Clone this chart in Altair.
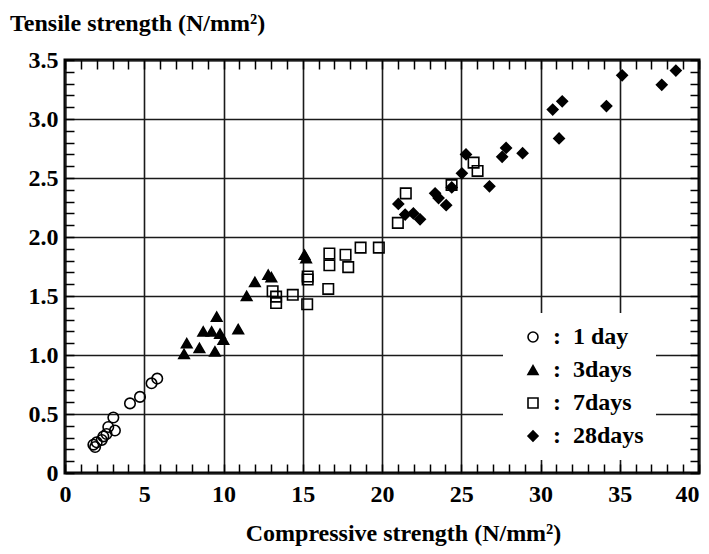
import altair as alt
import pandas as pd

# 1 day (open circles)
c1_x = [1.79, 1.90, 2.00, 2.32, 2.42, 2.62, 2.73, 3.15, 3.05, 4.10, 4.73, 5.46, 5.82]
c1_y = [0.24, 0.22, 0.26, 0.28, 0.31, 0.33, 0.39, 0.36, 0.47, 0.59, 0.645, 0.76, 0.80]
# 3 days (filled triangles)
t3_x = [7.51, 7.68, 8.48, 8.72, 9.25, 9.46, 9.57, 9.78, 9.99, 10.93, 11.46, 11.98, 12.82, 13.02, 15.11, 15.21]
t3_y = [1.01, 1.10, 1.06, 1.20, 1.20, 1.03, 1.325, 1.18, 1.13, 1.22, 1.50, 1.62, 1.68, 1.66, 1.85, 1.82]
# 7 days (open squares)
s7_x = [13.10, 13.32, 13.32, 14.37, 15.31, 15.31, 15.28, 16.61, 16.68, 16.68, 17.70, 17.87, 18.65, 19.80,
        21.00, 21.50, 24.39, 25.78, 26.03]
s7_y = [1.54, 1.495, 1.44, 1.51, 1.665, 1.64, 1.43, 1.56, 1.86, 1.76, 1.85, 1.745, 1.91, 1.91,
        2.12, 2.37, 2.44, 2.63, 2.56]
# 28 days (filled diamonds)
d28_x = [21.03, 21.46, 21.98, 22.40, 23.35, 23.57, 24.05, 24.40, 25.04, 25.30, 26.78, 27.58, 27.83, 28.87,
         30.77, 31.37, 31.17, 34.16, 35.15, 37.65, 38.54]
d28_y = [2.28, 2.19, 2.20, 2.15, 2.37, 2.33, 2.27, 2.42, 2.54, 2.70, 2.43, 2.68, 2.755, 2.71,
         3.08, 3.15, 2.835, 3.11, 3.37, 3.29, 3.41]

ages = ["1 day", "3days", "7days", "28days"]
shapes = ["circle", "triangle-up", "square", "diamond"]
fills = ["transparent", "black", "transparent", "black"]
strokes = ["black", "black", "black", "black"]

x_major = [0, 5, 10, 15, 20, 25, 30, 35, 40]
y_major = [0, 0.5, 1.0, 1.5, 2.0, 2.5, 3.0, 3.5]
x_minor = list(range(0, 41))
y_minor = [i / 10 for i in range(0, 36)]

rows = []
for age, xs, ys in zip(ages, [c1_x, t3_x, s7_x, d28_x], [c1_y, t3_y, s7_y, d28_y]):
    for xv, yv in zip(xs, ys):
        rows.append({"cs": xv, "ts": yv, "age": age})
df = pd.DataFrame(rows)

FONT = "Liberation Serif"
FS = 24
sc_x = alt.Scale(domain=[0, 40], nice=False, zero=False)
sc_y = alt.Scale(domain=[0, 3.5], nice=False, zero=False)

leg = alt.Legend(
    title=None, orient="none", legendX=438, legendY=253,
    fillColor="white", padding=12, symbolOffset=6, labelOffset=8, rowPadding=9,
    labelFont=FONT, labelFontSize=FS, labelFontWeight="bold", labelColor="black",
    symbolSize=100, symbolStrokeColor="black", symbolStrokeWidth=1.6,
    labelExpr="':\u00a0\u00a0' + datum.label",
)

base = alt.Chart(df)

main = base.mark_point(filled=True, strokeWidth=1.6, fillOpacity=1, opacity=1, size=110).encode(
    x=alt.X("cs:Q", scale=sc_x, axis=alt.Axis(
        orient="bottom", values=x_major, grid=True, ticks=False, domain=False, labels=True,
        labelPadding=9, format="d",
        labelAlign={"condition": {"test": "datum.value == 40", "value": "right"}, "value": "center"},
        title="Compressive strength (N/mm²)", titleX=338, titleY=67, titleBaseline="alphabetic")),
    y=alt.Y("ts:Q", scale=sc_y, axis=alt.Axis(
        orient="left", values=y_major, grid=True, ticks=False, domain=False, title=None,
        labelPadding=7, labelExpr="datum.value == 0 ? '0' : format(datum.value, '.1f')")),
    shape=alt.Shape("age:N", scale=alt.Scale(domain=ages, range=shapes), legend=leg),
    fill=alt.Fill("age:N", scale=alt.Scale(domain=ages, range=fills), legend=leg),
    stroke=alt.Stroke("age:N", scale=alt.Scale(domain=ages, range=strokes), legend=leg),
)

tick_ax = dict(tickSize=9, offset=-9, labels=False, grid=False, domain=False, title=None,
               tickColor="black", tickWidth=1.5, minExtent=0, maxExtent=9)

ticks_bl = base.mark_point(opacity=0).encode(
    x=alt.X("cs:Q", scale=sc_x, axis=alt.Axis(orient="bottom", values=x_minor, **tick_ax)),
    y=alt.Y("ts:Q", scale=sc_y, axis=alt.Axis(orient="left", values=y_minor, **tick_ax)),
)
ticks_tr = base.mark_point(opacity=0).encode(
    x=alt.X("cs:Q", scale=sc_x, axis=alt.Axis(orient="top", values=x_minor, **tick_ax)),
    y=alt.Y("ts:Q", scale=sc_y, axis=alt.Axis(orient="right", values=y_minor, **tick_ax)),
)

chart = alt.layer(main, ticks_bl, ticks_tr).resolve_axis(
    x="independent", y="independent"
).properties(
    width=634, height=413,
    autosize=alt.AutoSizeParams(type="none"),
    padding={"left": 57, "top": 52, "right": 2, "bottom": 80},
    title=alt.TitleParams(
        "Tensile strength (N/mm²)", anchor="start", frame="group", dx=-55, dy=13, offset=6,
        baseline="alphabetic", font=FONT, fontSize=FS, fontWeight="bold", color="black"),
).configure(
    background="white"
).configure_view(
    stroke="black", strokeWidth=3
).configure_axis(
    labelFont=FONT, labelFontSize=FS, labelFontWeight="bold", labelColor="black",
    titleFont=FONT, titleFontSize=FS, titleFontWeight="bold", titleColor="black",
    gridColor="#1a1a1a", gridWidth=1.6, gridOpacity=1,
)

chart.save("out.html", embed_options={"renderer": "svg", "actions": False})
